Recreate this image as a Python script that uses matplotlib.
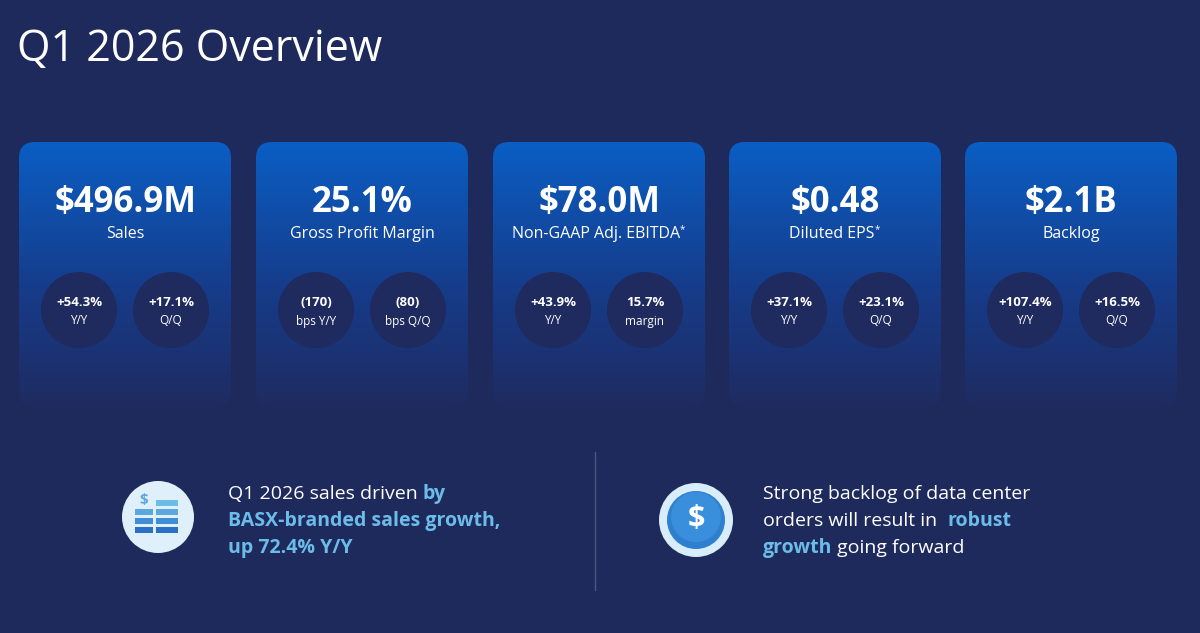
#!/usr/bin/env python3

import numpy as np
import matplotlib
matplotlib.use("Agg")
import matplotlib.pyplot as plt
from matplotlib.patches import FancyBboxPatch, Circle, Rectangle

BG = "#1f2a5c"
BLUE_TXT = "#6cbcea"
FONT = ["Open Sans", "DejaVu Sans"]

cards = [
    {"value": "$496.9M", "label": "Sales",
     "bubbles": [("+54.3%", "Y/Y"), ("+17.1%", "Q/Q")]},
    {"value": "25.1%", "label": "Gross Profit Margin",
     "bubbles": [("(170)", "bps Y/Y"), ("(80)", "bps Q/Q")]},
    {"value": "$78.0M", "label": "Non-GAAP Adj. EBITDA*",
     "bubbles": [("+43.9%", "Y/Y"), ("15.7%", "margin")]},
    {"value": "$0.48", "label": "Diluted EPS*",
     "bubbles": [("+37.1%", "Y/Y"), ("+23.1%", "Q/Q")]},
    {"value": "$2.1B", "label": "Backlog",
     "bubbles": [("+107.4%", "Y/Y"), ("+16.5%", "Q/Q")]},
]
card_left = [19, 256, 493, 729, 965]
card_w, card_top, card_bot = 212, 142, 408

fig = plt.figure(figsize=(12, 6.33), dpi=100)
fig.patch.set_facecolor(BG)
ax = fig.add_axes([0, 0, 1, 1])
ax.set_xlim(0, 1200)
ax.set_ylim(633, 0)
ax.axis("off")
ax.set_facecolor(BG)

ax.text(17, 50, "Q1 2026 Overview", color="white", fontsize=31,
        family=FONT, va="center", ha="left")

# gradient: bright blue at top fading into background
top_c = np.array([0x0a, 0x5e, 0xc4]) / 255
mid_c = np.array([0x16, 0x3c, 0x8a]) / 255
bot_c = np.array([0x1f, 0x2b, 0x60]) / 255
t = np.linspace(0, 1, 256)[:, None]
grad = np.where(t < 0.55,
                top_c * (1 - t / 0.55) + mid_c * (t / 0.55),
                mid_c * (1 - (t - 0.55) / 0.45) + bot_c * ((t - 0.55) / 0.45))
grad = grad[:, None, :]

for x0, card in zip(card_left, cards):
    patch = FancyBboxPatch((x0, card_top), card_w, card_bot - card_top,
                           boxstyle="round,pad=0,rounding_size=16",
                           facecolor="none", edgecolor="none")
    ax.add_patch(patch)
    im = ax.imshow(grad, extent=(x0, x0 + card_w, card_bot, card_top),
                   aspect="auto", zorder=1)
    im.set_clip_path(patch)
    cx = x0 + card_w / 2
    ax.text(cx, 203, card["value"], color="white", fontsize=25,
            fontweight="bold", family=FONT, ha="center", va="center", zorder=3)
    lab = card["label"]
    if lab.endswith("*"):
        t1 = ax.text(cx - 3, 234, lab[:-1], color="white", fontsize=11.5,
                     family=FONT, ha="center", va="center", zorder=3)
        ax.annotate("*", xy=(1, 0.75), xycoords=t1, color="white",
                    fontsize=7, family=FONT, ha="left", va="center", zorder=3)
    else:
        ax.text(cx, 234, lab, color="white", fontsize=11.5,
                family=FONT, ha="center", va="center", zorder=3)
    for dx, (big, small) in zip((-46, 46), card["bubbles"]):
        ax.add_patch(Circle((cx + dx, 310), 38, facecolor="#1f2a5e",
                            edgecolor="none", zorder=2))
        ax.text(cx + dx, 302, big, color="white", fontsize=9.5,
                fontweight="bold", family=FONT, ha="center", va="center", zorder=3)
        ax.text(cx + dx, 321, small, color="white", fontsize=8.5,
                family=FONT, ha="center", va="center", zorder=3)

# divider
ax.plot([595, 595], [452, 590], color="#4a5580", lw=1)

# left icon: stacked bars
ax.add_patch(Circle((158, 517), 36, facecolor="#dff0fb", edgecolor="none"))
bar_cols = ["#6cbde6", "#5aa8de", "#3f8ed6", "#2a70c6"]
for i, c in enumerate(bar_cols):
    ax.add_patch(Rectangle((156, 500 + i * 9), 22, 6, facecolor=c))
for i, c in enumerate(bar_cols[1:]):
    ax.add_patch(Rectangle((135, 509 + i * 9), 18, 6, facecolor=c))
ax.text(144, 500, "$", color="#5aa8de", fontsize=11, fontweight="bold",
        ha="center", va="center", family=FONT)

# right icon: coin
ax.add_patch(Circle((696, 520), 37, facecolor="#d8ecfa", edgecolor="none"))
ax.add_patch(Circle((696, 520), 29, facecolor="#2f7fd0", edgecolor="none"))
ax.add_patch(Circle((696, 517), 25, facecolor="#3a8fdc", edgecolor="none"))
ax.text(696, 519, "$", color="white", fontsize=22, fontweight="bold",
        ha="center", va="center", family=FONT)

renderer = fig.canvas.get_renderer()

def rich_line(x, y, parts):
    # place segments on a common baseline, measuring each one
    for s, col, bold in parts:
        txt = ax.text(x, y, s, ha="left", va="baseline", color=col,
                      fontsize=14, family=FONT,
                      fontweight="bold" if bold else "normal")
        w = txt.get_window_extent(renderer).width
        x += w * 1200 / fig.bbox.width

rich_line(228, 499, [("Q1 2026 sales driven ", "white", False), ("by", BLUE_TXT, True)])
rich_line(228, 526, [("BASX-branded sales growth,", BLUE_TXT, True)])
rich_line(228, 553, [("up 72.4% Y/Y", BLUE_TXT, True)])

rich_line(763, 499, [("Strong backlog of data center", "white", False)])
rich_line(763, 526, [("orders will result in  ", "white", False), ("robust", BLUE_TXT, True)])
rich_line(763, 553, [("growth", BLUE_TXT, True), (" going forward", "white", False)])

fig.savefig("out.png", dpi=100, facecolor=BG)
